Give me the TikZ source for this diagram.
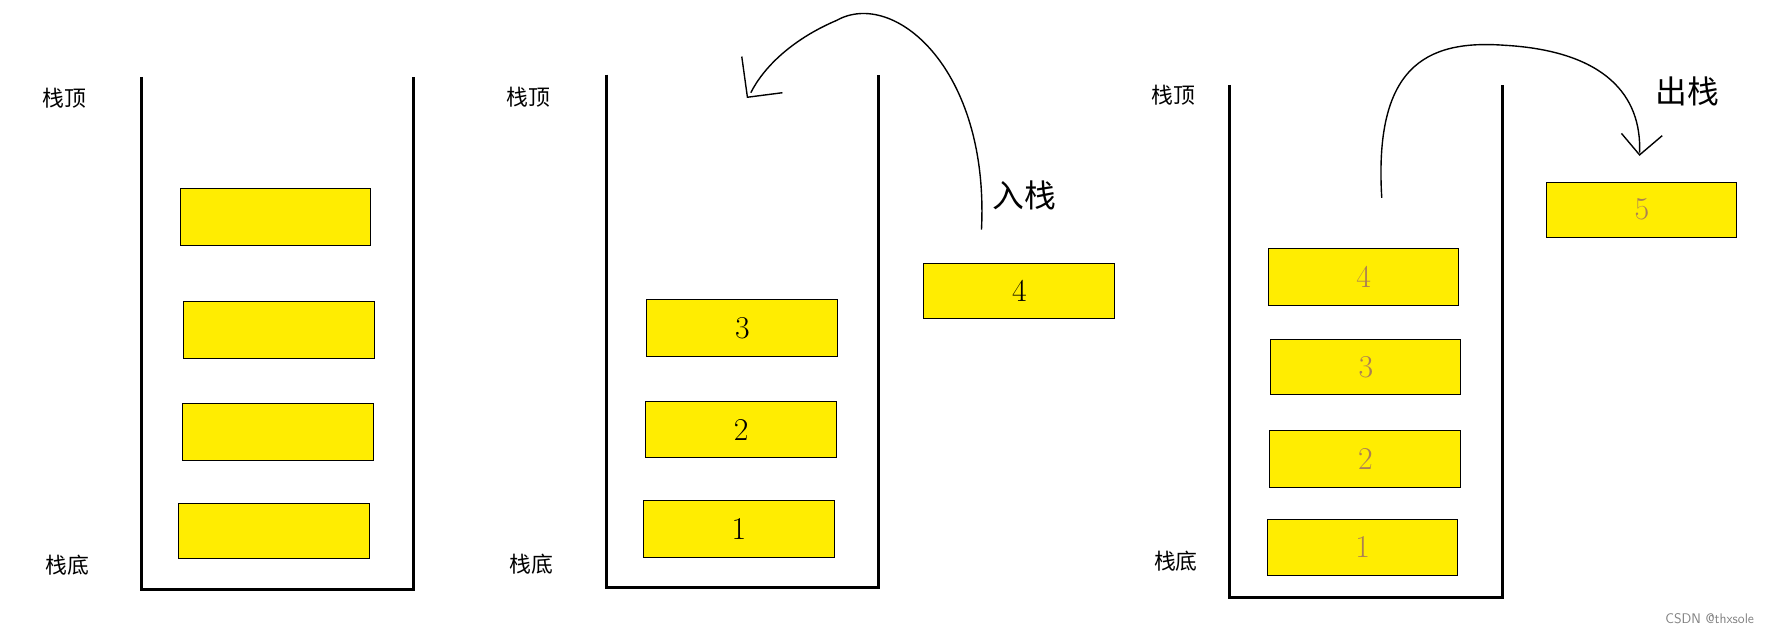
\documentclass[tikz,border=0pt]{standalone}
\usepackage{fontspec}
\newfontfamily\cjk{Noto Sans CJK SC}
\begin{document}
\begin{tikzpicture}[x=0.04cm,y=-0.04cm,
  wall/.style={line width=3pt},
  box/.style={draw,fill=yellow!95!orange,line width=1pt},
  lbl/.style={font=\cjk\fontsize{22}{22}\selectfont},
  big/.style={font=\cjk\fontsize{32}{32}\selectfont},
  num/.style={font=\fontsize{32}{32}\selectfont},
  gnum/.style={font=\fontsize{32}{32}\selectfont,text=brown!70!gray},
  curve/.style={line width=1.4pt}]
\useasboundingbox (0,0) rectangle (1568,559);
% stack 1
\draw[wall] (125,68) -- (125,521) -- (366,521) -- (366,68);
\node[lbl] (t1) at (57,87) {栈顶};
\node[lbl] (b1) at (60,500) {栈底};
\draw[box] (160,167) rectangle (328,217);
\draw[box] (162,267) rectangle (331,317);
\draw[box] (161,357) rectangle (330,407);
\draw[box] (158,445) rectangle (327,494);
% stack 2
\draw[wall] (536,66) -- (536,520) -- (777,520) -- (777,66);
\node[lbl] (t2) at (467,86) {栈顶};
\node[lbl] (b2) at (470,499) {栈底};
\draw[box] (572,265) rectangle node[num]{3} (741,315);
\draw[box] (571,355) rectangle node[num]{2} (740,405);
\draw[box] (569,443) rectangle node[num]{1} (738,493);
\draw[box] (817,233) rectangle node[num]{4} (986,282);
\node[big] (in) at (906,173) {入栈};
\coordinate (s2) at (868,203);
\coordinate (e2) at (664,82);
\draw[curve] (s2) .. controls (875,60) and (790,-10) .. (740,18) .. controls (700,35) and (675,60) .. (e2);
\draw[curve] (656,50) -- (661,86) -- (692,82);
% stack 3
\draw[wall] (1087,75) -- (1087,528) -- (1329,528) -- (1329,75);
\node[lbl] (t3) at (1038,84) {栈顶};
\node[lbl] (b3) at (1040,496) {栈底};
\draw[box] (1122,220) rectangle node[gnum]{4} (1290,270);
\draw[box] (1124,300) rectangle node[gnum]{3} (1292,349);
\draw[box] (1123,381) rectangle node[gnum]{2} (1292,431);
\draw[box] (1121,459) rectangle node[gnum]{1} (1289,509);
\draw[box] (1368,161) rectangle node[gnum]{5} (1536,210);
\node[big] (out) at (1492,81) {出栈};
\coordinate (s3) at (1222,175);
\coordinate (e3) at (1450,135);
\draw[curve] (s3) .. controls (1215,60) and (1260,35) .. (1330,40) .. controls (1420,45) and (1452,85) .. (e3);
\draw[curve] (1434,118) -- (1450,137) -- (1470,120);
\node[font=\sffamily\fontsize{14}{14}\selectfont,text=gray] (wm) at (1512,547) {CSDN @thxsole};
\end{tikzpicture}
\end{document}
